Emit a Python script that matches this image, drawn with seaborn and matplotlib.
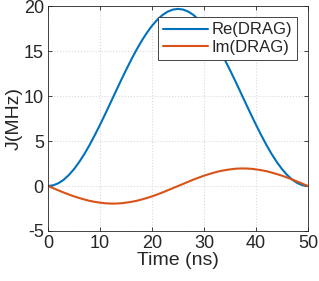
import pandas as pd
import matplotlib
matplotlib.use("Agg")
import matplotlib.pyplot as plt
import seaborn as sns

# time axis (ns) and the two pulse components (MHz)
time_ns = list(range(0, 51))
re_drag = [0.00, 0.08, 0.31, 0.69, 1.22, 1.88, 2.67, 3.57, 4.57, 5.66,
           6.81, 8.00, 9.23, 10.47, 11.70, 12.89, 14.04, 15.13, 16.13, 17.03,
           17.82, 18.48, 19.01, 19.39, 19.62, 19.70, 19.62, 19.39, 19.01, 18.48,
           17.82, 17.03, 16.13, 15.13, 14.04, 12.89, 11.70, 10.47, 9.23, 8.00,
           6.81, 5.66, 4.57, 3.57, 2.67, 1.88, 1.22, 0.69, 0.31, 0.08, 0.00]
im_drag = [0.00, -0.24, -0.48, -0.72, -0.94, -1.15, -1.33, -1.50, -1.65, -1.76,
           -1.85, -1.92, -1.95, -1.95, -1.92, -1.85, -1.76, -1.65, -1.50, -1.33,
           -1.15, -0.94, -0.72, -0.48, -0.24, 0.00, 0.24, 0.48, 0.72, 0.94,
           1.15, 1.33, 1.50, 1.65, 1.76, 1.85, 1.92, 1.95, 1.95, 1.92,
           1.85, 1.76, 1.65, 1.50, 1.33, 1.15, 0.94, 0.72, 0.48, 0.24, 0.00]

x_ticks = [0, 10, 20, 30, 40, 50]
y_ticks = [-5, 0, 5, 10, 15, 20]

df = pd.DataFrame({
    "t": time_ns * 2,
    "J": re_drag + im_drag,
    "part": ["Re(DRAG)"] * len(time_ns) + ["Im(DRAG)"] * len(time_ns),
})

sns.set_style("ticks")
plt.rcParams["font.family"] = ["Liberation Sans", "DejaVu Sans"]
plt.rcParams["axes.unicode_minus"] = False

fig = plt.figure(figsize=(3.19, 2.81), dpi=100)
ax = fig.add_axes([0.1505, 0.178, 0.815, 0.8])

sns.lineplot(data=df, x="t", y="J", hue="part", ax=ax,
             palette=["#0072BD", "#D95319"], linewidth=1.5)

ax.set_xlim(0, 50)
ax.set_ylim(-5, 20)
ax.set_xticks(x_ticks)
ax.set_yticks(y_ticks)
ax.grid(True, linestyle=":", color="#d9d9d9", linewidth=0.8)
ax.tick_params(direction="in", length=3, width=0.6, top=True, right=True,
               labelsize=13, colors="#262626", pad=3)
for s in ax.spines.values():
    s.set_color("#262626")
    s.set_linewidth(0.6)

ax.set_xlabel("Time (ns)", fontsize=14, color="#262626", labelpad=0)
ax.set_ylabel("J(MHz)", fontsize=14, color="#262626", labelpad=1)

leg = ax.legend(loc="upper right", bbox_to_anchor=(0.957, 0.95), fontsize=12,
                frameon=True, fancybox=False, handlelength=2.7,
                borderpad=0.3, labelspacing=0.15, handletextpad=0.2,
                borderaxespad=0)
leg.get_frame().set_edgecolor("#262626")
leg.get_frame().set_linewidth(0.6)
leg.get_frame().set_alpha(1)

fig.savefig("out.png", dpi=100)
